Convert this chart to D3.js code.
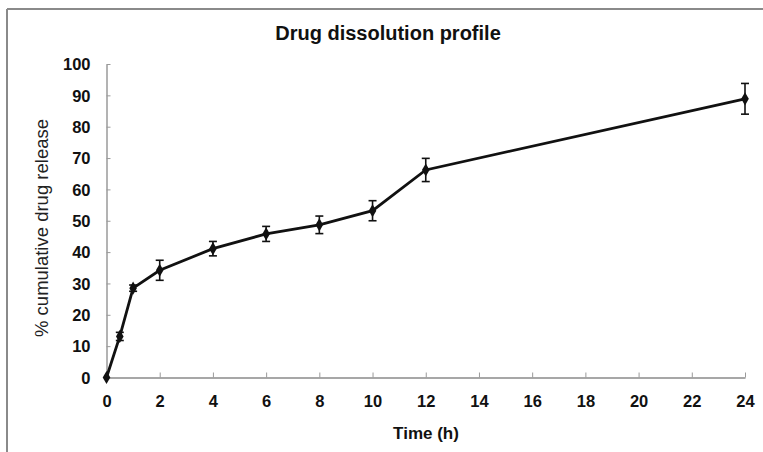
<!DOCTYPE html>
<html><head><meta charset="utf-8">
<script src="https://cdn.jsdelivr.net/npm/d3@7"></script>
<style>body{margin:0;background:#fff}svg{display:block}</style>
</head><body>
<script>
const times = [0, 0.5, 1, 2, 4, 6, 8, 10, 12, 24];
const release = [0, 13.1, 28.5, 34.2, 41.1, 45.8, 48.7, 53.2, 66.2, 88.9];
const sdev = [0, 1.3, 1.0, 3.2, 2.3, 2.4, 2.8, 3.2, 3.7, 4.9];
const xTicks = [0, 2, 4, 6, 8, 10, 12, 14, 16, 18, 20, 22, 24];
const yTicks = [0, 10, 20, 30, 40, 50, 60, 70, 80, 90, 100];

const W = 763, H = 452;
const svg = d3.select("body").append("svg").attr("width", W).attr("height", H);
// frame
svg.append("line").attr("x1", 7).attr("x2", 7).attr("y1", 9).attr("y2", H).attr("stroke", "#8a8a8a").attr("stroke-width", 2);
svg.append("line").attr("x1", 7).attr("x2", W).attr("y1", 9).attr("y2", 9).attr("stroke", "#8a8a8a").attr("stroke-width", 2);

const x = d3.scaleLinear().domain([0, 24]).range([106.5, 745]);
const y = d3.scaleLinear().domain([0, 100]).range([377.5, 64]);

const font = "'Liberation Sans', Arial, sans-serif";
const xAxis = svg.append("g").attr("transform", `translate(0,${y(0)})`)
  .call(d3.axisBottom(x).tickValues(xTicks).tickSizeInner(-5).tickSizeOuter(0));
const yAxis = svg.append("g").attr("transform", `translate(${x(0)},0)`)
  .call(d3.axisLeft(y).tickValues(yTicks).tickSizeInner(-4).tickSizeOuter(0));
[xAxis, yAxis].forEach(g => {
  g.select(".domain").attr("stroke", "#8a8a8a").attr("stroke-width", 1.3);
  g.selectAll(".tick line").attr("stroke", "#9a9a9a");
  g.selectAll(".tick text").attr("font-family", font).attr("font-size", 16.5).attr("font-weight", "bold").attr("fill", "#111");
});
xAxis.selectAll(".tick text").attr("y", 24).attr("dy", "0.35em");
yAxis.selectAll(".tick text").attr("x", -16).attr("dy", "0.35em");

// title and labels
svg.append("text").attr("x", 388).attr("y", 40).attr("text-anchor", "middle")
  .attr("font-family", font).attr("font-size", 20).attr("font-weight", "bold").attr("fill", "#111").text("Drug dissolution profile");
svg.append("text").attr("x", 426).attr("y", 439).attr("text-anchor", "middle")
  .attr("font-family", font).attr("font-size", 17).attr("font-weight", "bold").attr("fill", "#111").text("Time (h)");
svg.append("text").attr("transform", `translate(48,228) rotate(-90)`).attr("text-anchor", "middle")
  .attr("font-family", font).attr("font-size", 18.5).attr("fill", "#222").text("% cumulative drug release");

const data = times.map((t, i) => ({t, v: release[i], e: sdev[i]}));
// error bars
const eb = svg.append("g").attr("stroke", "#111").attr("stroke-width", 1.6);
data.filter(d => d.e > 0).forEach(d => {
  eb.append("line").attr("x1", x(d.t)).attr("x2", x(d.t)).attr("y1", y(d.v - d.e)).attr("y2", y(d.v + d.e));
  [d.v - d.e, d.v + d.e].forEach(v => eb.append("line").attr("x1", x(d.t) - 4).attr("x2", x(d.t) + 4).attr("y1", y(v)).attr("y2", y(v)));
});
// line
svg.append("path").datum(data).attr("fill", "none").attr("stroke", "#111").attr("stroke-width", 2.8)
  .attr("d", d3.line().x(d => x(d.t)).y(d => y(d.v)));
// markers
svg.append("g").selectAll("path").data(data).join("path")
  .attr("transform", d => `translate(${x(d.t)},${y(d.v)})`)
  .attr("d", d3.symbol(d3.symbolDiamond, 50)).attr("fill", "#111");
</script>
</body></html>
